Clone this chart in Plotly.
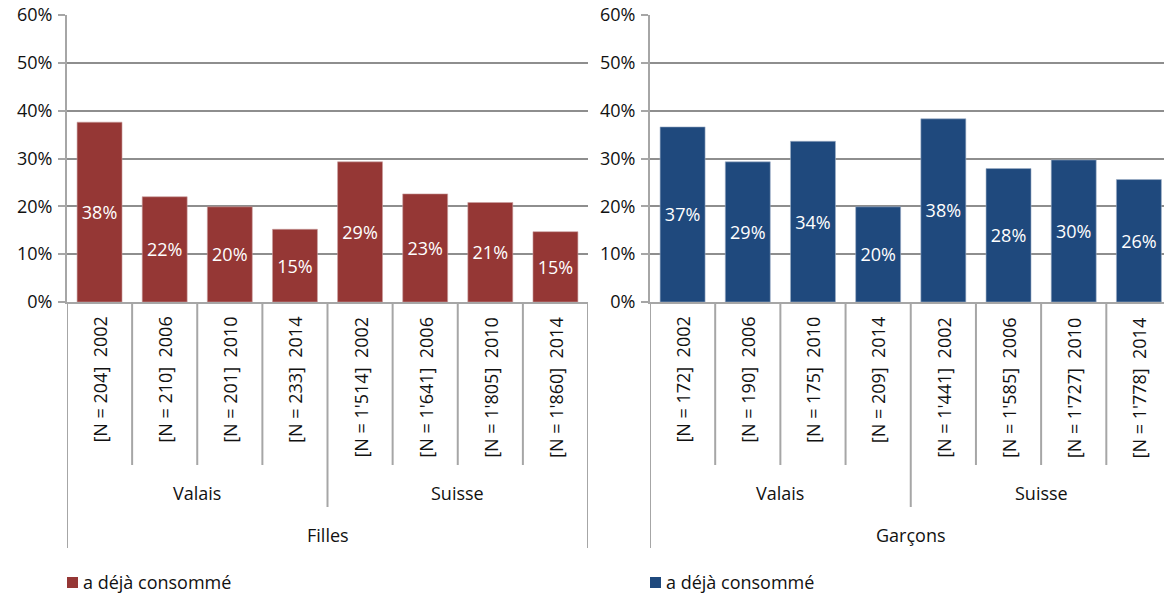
import plotly.graph_objects as go

years = ["2002", "2006", "2010", "2014", "2002", "2006", "2010", "2014"]
regions = ["Valais", "Suisse"]
n_filles = ["204", "210", "201", "233", "1'514", "1'641", "1'805", "1'860"]
n_garcons = ["172", "190", "175", "209", "1'441", "1'585", "1'727", "1'778"]
filles = [37.6, 22.0, 19.9, 15.2, 29.3, 22.6, 20.8, 14.7]
garcons = [36.6, 29.3, 33.6, 19.9, 38.3, 27.9, 29.7, 25.6]
panels = ["Filles", "Garçons"]
series_name = "a déjà consommé"
y_ticks = [0, 10, 20, 30, 40, 50, 60]
y_tick_text = [f"{v}%" for v in y_ticks]

RED = "#953735"
BLUE = "#1F497D"
FONT = "Open Sans"
FS = 18
GRID = "#8e8e8e"
AX = "#a6a6a6"
TXT = "#111111"
W, H = 1164, 597


def py(px):
    return 1 - px / H


def cat_labels(ns):
    return [f"[N = {n}]\u00a0 {y}" for n, y in zip(ns, years)]


cats_f = cat_labels(n_filles)
cats_g = cat_labels(n_garcons)

fig = go.Figure()
for cats, vals, col, xa, ya, lc in ((cats_f, filles, RED, "x", "y", "#c9a0a0"),
                                    (cats_g, garcons, BLUE, "x2", "y2", "#a0b0c8")):
    fig.add_trace(go.Bar(
        x=cats, y=vals, name=series_name, marker=dict(color=col, line=dict(width=0.6, color=lc)),
        texttemplate="%{y:.0f}%", textposition="inside", insidetextanchor="middle",
        textangle=0, constraintext="none",
        textfont=dict(color="white", size=FS, family=FONT),
        xaxis=xa, yaxis=ya, showlegend=False, hoverinfo="skip"))

ydom = [py(302), py(15)]
yax = dict(range=[0, 60], tickmode="array", tickvals=y_ticks, ticktext=y_tick_text,
           showgrid=True, gridcolor=GRID, gridwidth=1.8, showline=True, linecolor=AX,
           linewidth=2, ticks="outside", ticklen=7, tickwidth=2, tickcolor=AX, ticklabelstandoff=2,
           tickfont=dict(family=FONT, size=FS, color=TXT), zeroline=False, domain=ydom,
           fixedrange=True, automargin=False, layer="below traces")
xax = dict(type="category", showticklabels=False, showgrid=False, showline=True, linecolor=AX,
           linewidth=2, ticks="", fixedrange=True, automargin=False)

fig.update_layout(
    width=W, height=H, margin=dict(l=0, r=0, t=0, b=0, autoexpand=False),
    plot_bgcolor="white", paper_bgcolor="white", bargap=0.31, showlegend=False,
    font=dict(family=FONT, size=FS, color=TXT),
    xaxis=dict(xax, domain=[67 / W, 588 / W], range=[-0.5, 7.5], anchor="y"),
    yaxis=dict(yax, anchor="x"),
    xaxis2=dict(xax, domain=[650 / W, 1.0], range=[-0.5, 7.385], anchor="y2"),
    yaxis2=dict(yax, anchor="x2"),
)

shapes = []
annotations = []
for xr, cats, panel, col, lx in (("x", cats_f, panels[0], RED, 67),
                                 ("x2", cats_g, panels[1], BLUE, 650)):
    for k in range(1, 8):
        bottom = 507 if k == 4 else 465
        shapes.append(dict(type="line", xref=xr, yref="paper", x0=k - 0.5, x1=k - 0.5,
                           y0=py(302), y1=py(bottom), line=dict(color=AX, width=2)))
    for k in (-0.5, 7.5):
        shapes.append(dict(type="line", xref=xr, yref="paper", x0=k, x1=k,
                           y0=py(302), y1=py(548), line=dict(color=AX, width=2)))
    for c in cats:
        annotations.append(dict(x=c, xref=xr, y=py(315), yref="paper", text=c, textangle=-90,
                                showarrow=False, xanchor="center", yanchor="top",
                                font=dict(family=FONT, size=FS, color=TXT)))
    for i, r in enumerate(regions):
        annotations.append(dict(x=1.5 + 4 * i, xref=xr, y=py(493), yref="paper", text=r,
                                showarrow=False, xanchor="center", yanchor="middle",
                                font=dict(family=FONT, size=FS, color=TXT)))
    annotations.append(dict(x=3.5, xref=xr, y=py(535), yref="paper", text=panel,
                            showarrow=False, xanchor="center", yanchor="middle",
                            font=dict(family=FONT, size=FS, color=TXT)))
    # legend (one per panel)
    shapes.append(dict(type="rect", xref="paper", yref="paper", x0=lx / W, x1=(lx + 11) / W,
                       y0=py(588), y1=py(577), fillcolor=col, line=dict(width=0)))
    annotations.append(dict(x=(lx + 14) / W, xref="paper", y=py(582), yref="paper",
                            text=series_name, showarrow=False, xanchor="left", yanchor="middle",
                            font=dict(family=FONT, size=FS, color=TXT)))

fig.update_layout(shapes=shapes, annotations=annotations)
fig.write_html("out.html", config={"displayModeBar": False},
               post_script="document.body.style.margin='0';document.body.style.overflow='hidden';")
